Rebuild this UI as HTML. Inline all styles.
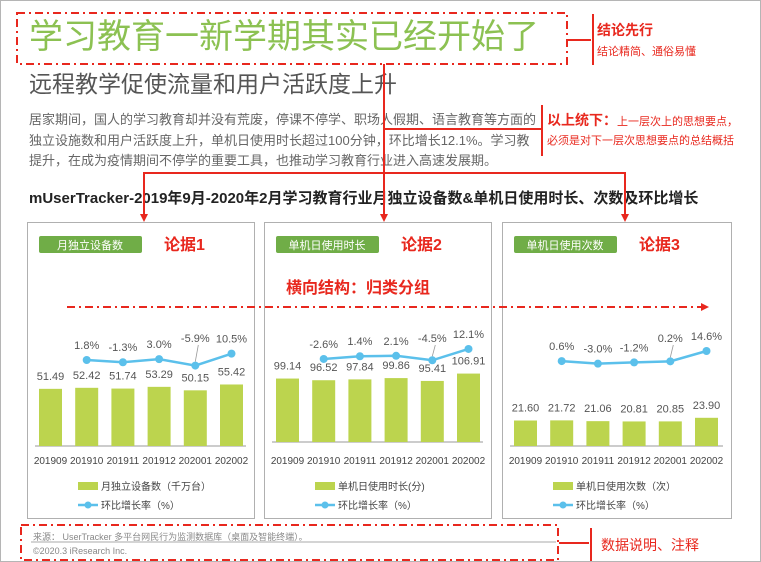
<!DOCTYPE html>
<html><head><meta charset="utf-8">
<style>
body{margin:0;background:#fff;}
#root{position:relative;width:761px;height:562px;overflow:hidden;font-family:"Liberation Sans","Noto Sans CJK SC",sans-serif;border:1px solid #b5b5b5;box-sizing:border-box;}
.abs{position:absolute;white-space:nowrap;}
</style></head>
<body>
<div id="root">
<div class="abs" style="left:28px;top:14px;font-size:34px;color:#8cc152;line-height:44px;">学习教育一新学期其实已经开始了</div>
<div class="abs" style="left:28px;top:68px;font-size:23px;color:#555;line-height:30px;">远程教学促使流量和用户活跃度上升</div>
<div class="abs" style="left:28px;top:109px;font-size:13px;color:#666;line-height:20.5px;">居家期间，国人的学习教育却并没有荒废，停课不停学、职场人假期、语言教育等方面的<br>独立设施数和用户活跃度上升，单机日使用时长超过100分钟，环比增长12.1%。学习教<br>提升，在成为疫情期间不停学的重要工具，也推动学习教育行业进入高速发展期。</div>
<div class="abs" style="left:28px;top:188px;font-size:15px;font-weight:bold;color:#222;line-height:20px;">mUserTracker-2019年9月-2020年2月学习教育行业月独立设备数&amp;单机日使用时长、次数及环比增长</div>

<svg id="chart" width="761" height="562" style="position:absolute;left:0;top:0"></svg>

<div class="abs" style="left:596px;top:19px;font-size:14px;font-weight:bold;color:#e8281e;">结论先行</div>
<div class="abs" style="left:596px;top:42px;font-size:11px;color:#e8281e;">结论精简、通俗易懂</div>
<div class="abs" style="left:546px;top:109px;font-size:11px;color:#e8281e;"><b style="font-size:14px">以上统下：</b>上一层次上的思想要点，</div>
<div class="abs" style="left:546px;top:131px;font-size:11px;color:#e8281e;">必须是对下一层次思想要点的总结概括</div>
<div class="abs" style="left:285px;top:273px;font-size:16px;font-weight:bold;color:#e8281e;">横向结构：归类分组</div>
<div class="abs" style="left:32px;top:529px;font-size:9px;color:#888;">来源： UserTracker 多平台网民行为监测数据库（桌面及智能终端）。</div>
<div class="abs" style="left:32px;top:545px;font-size:9px;color:#888;">©2020.3 iResearch Inc.</div>
<div class="abs" style="left:600px;top:534px;font-size:14px;color:#e8281e;">数据说明、注释</div>
</div>
<script>
const categories=["201909","201910","201911","201912","202001","202002"];
const devices=[51.49,52.42,51.74,53.29,50.15,55.42];
const deviceGrowth=[null,1.8,-1.3,3.0,-5.9,10.5];
const duration=[99.14,96.52,97.84,99.86,95.41,106.91];
const durationGrowth=[null,-2.6,1.4,2.1,-4.5,12.1];
const times=[21.60,21.72,21.06,20.81,20.85,23.90];
const timesGrowth=[null,0.6,-3.0,-1.2,0.2,14.6];
const panelTitles=["月独立设备数","单机日使用时长","单机日使用次数"];
const evidence=["论据1","论据2","论据3"];
const barLegend=["月独立设备数（千万台）","单机日使用时长(分)","单机日使用次数（次）"];

const svg=document.getElementById('chart');const NS="http://www.w3.org/2000/svg";
function mk(t,a,p){const e=document.createElementNS(NS,t);for(const k in a)e.setAttribute(k,a[k]);(p||svg).appendChild(e);return e;}
const RED="#e8281e";
// layout per panel (not data): bar scale, baseline, line zero and slope, labels with leader lines
const panels=[
 {x:26,w:227,bars:devices,g:deviceGrowth,s:1.11,base:445,z:360.3,k:0.73,lift:[4]},
 {x:263,w:227,bars:duration,g:durationGrowth,s:0.64,base:441,z:356.2,k:0.68,lift:[4]},
 {x:501,w:229,bars:times,g:timesGrowth,s:1.18,base:445,z:360.5,k:0.72,lift:[4]}];
panels.forEach((p,i)=>{
 const yBar=v=>p.base-v*p.s;
 const yLine=v=>p.z-v*p.k;
 const grp=mk('g',{});
 
 
 mk('rect',{x:p.x+.5,y:221.5,width:p.w,height:296,fill:'#fff',stroke:'#b0b0b0'},grp);
 mk('rect',{x:p.x+12,y:235,width:103,height:17,rx:2,fill:'#70ad47'},grp);
 const bt=mk('text',{x:p.x+63,y:248,'text-anchor':'middle','font-size':11,fill:'#fff'},grp);bt.textContent=panelTitles[i];
 const ev=mk('text',{x:p.x+137,y:249,'font-size':16,'font-weight':'bold',fill:RED},grp);ev.textContent=evidence[i];
 mk('line',{x1:p.x+8,x2:p.x+p.w-8,y1:p.base,y2:p.base,stroke:'#999'},grp);
 const step=36.2,x0=p.x+23.5;
 const pts=[];
 categories.forEach((c,j)=>{
  const cx=x0+j*step;
  const r=mk('rect',{x:cx-11.5,y:yBar(p.bars[j]),width:23,height:p.bars[j]*p.s,fill:'#bcd44e'},grp);
  
  
  const vt=mk('text',{x:cx,y:yBar(p.bars[j])-9,'text-anchor':'middle','font-size':11,fill:'#555'},grp);vt.textContent=p.bars[j].toFixed(2);
  const ct=mk('text',{x:cx,y:463,'text-anchor':'middle','font-size':10,fill:'#444'},grp);ct.textContent=c;
  if(p.g[j]!==null){pts.push([cx,yLine(p.g[j])]);}
 });
 mk('polyline',{points:pts.map(a=>a.join(',')).join(' '),fill:'none',stroke:'#5bc0eb','stroke-width':2.5},grp);
 categories.forEach((c,j)=>{ if(p.g[j]===null)return;
  const cx=x0+j*step,cy=yLine(p.g[j]);
  const d=mk('circle',{cx:cx,cy:cy,r:4,fill:'#5bc0eb'},grp);
  
  
  let ly=cy-11;
  if(p.lift.includes(j)){ly=Math.min(ly,341);mk('line',{x1:cx,y1:cy-4,x2:cx+3,y2:ly+3,stroke:'#999','stroke-width':0.8},grp);}
  const lt=mk('text',{x:cx,y:ly,'text-anchor':'middle','font-size':11,fill:'#555'},grp);lt.textContent=p.g[j].toFixed(1)+'%';
 });
 mk('rect',{x:p.x+51,y:481,width:20,height:8,fill:'#bcd44e'},grp);
 const l1=mk('text',{x:p.x+74,y:489,'font-size':10,fill:'#444'},grp);l1.textContent=barLegend[i];
 mk('line',{x1:p.x+51,x2:p.x+71,y1:504,y2:504,stroke:'#5bc0eb','stroke-width':2.5},grp);
 mk('circle',{cx:p.x+61,cy:504,r:3.5,fill:'#5bc0eb'},grp);
 const l2=mk('text',{x:p.x+74,y:508,'font-size':10,fill:'#444'},grp);l2.textContent='环比增长率（%）';
});
// annotations
const dash={stroke:RED,'stroke-width':2,fill:'none','stroke-dasharray':'8,4,2,4'};
mk('rect',Object.assign({x:16,y:12,width:550,height:51},dash));
mk('rect',Object.assign({x:20,y:524,width:537,height:35},dash));
mk('line',{x1:30,x2:555,y1:541,y2:541,stroke:'#aaa'});
mk('line',Object.assign({x1:66,x2:700,y1:306,y2:306},dash));
mk('path',{d:'M700,302 L708,306 L700,310 Z',fill:RED});
const solid={stroke:RED,'stroke-width':2,fill:'none'};
mk('path',Object.assign({d:'M566,39 H590 M592,13 V64 M383,63 V214 M143,214 V172 H624 V214 M383,128 H540 M541,104 V155 M558,542 H588 M590,527 V560'},solid));
[143,383,624].forEach(x=>mk('path',{d:`M${x-4},213 L${x+4},213 L${x},221 Z`,fill:RED}));
</script>
</body></html>
